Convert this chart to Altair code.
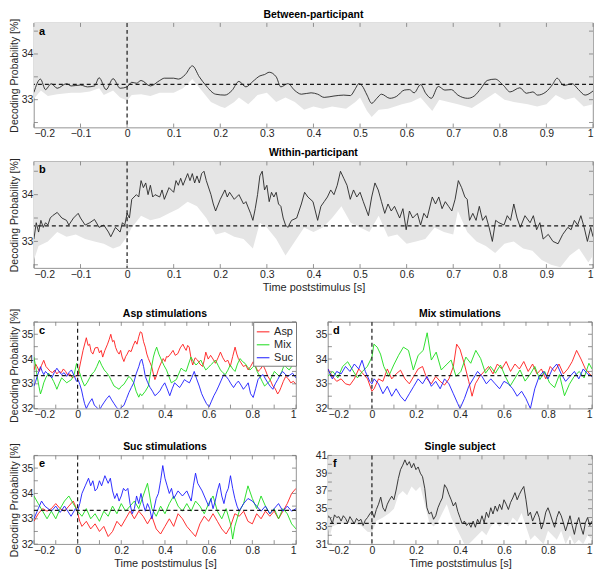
import altair as alt
import pandas as pd

FONT = "Liberation Sans"
CHANCE = 100.0 / 3.0
GRAY = "#e5e5e5"
BOX = "#7a7a7a"

# ---------------- panel a: between-participant (t [s], %) ----------------
a_line = [(-0.2,33.16),(-0.186,33.45),(-0.175,33.22),(-0.163,33.35),(-0.15,33.25),(-0.13,33.35),
          (-0.12,33.3),(-0.1,33.32),(-0.085,33.28),(-0.07,33.3),(-0.06,33.48),(-0.045,33.22),
          (-0.03,33.46),(-0.015,33.25),(0.0,33.28),(0.01,33.38),(0.02,33.36),(0.03,33.42),
          (0.05,33.3),(0.07,33.42),(0.08,33.47),(0.1,33.47),(0.11,33.45),(0.125,33.55),
          (0.14,33.74),(0.155,33.5),(0.17,33.3),(0.19,33.12),(0.21,33.1),(0.225,33.2),
          (0.24,33.4),(0.255,33.28),(0.27,33.4),(0.285,33.52),(0.295,33.55),(0.305,33.6),
          (0.32,33.5),(0.33,33.28),(0.345,33.35),(0.36,33.2),(0.374,33.12),(0.395,33.15),
          (0.409,33.12),(0.423,33.05),(0.444,33.08),(0.465,33.1),(0.479,33.09),(0.49,33.24),
          (0.497,33.35),(0.504,33.31),(0.515,33.1),(0.525,32.92),(0.536,33.03),(0.546,33.12),
          (0.564,33.03),(0.578,33.07),(0.595,33.21),(0.606,33.22),(0.616,33.15),(0.63,33.33),
          (0.641,33.14),(0.653,33.03),(0.668,33.29),(0.682,33.21),(0.696,33.22),(0.71,33.1),
          (0.731,33.03),(0.745,33.08),(0.759,33.24),(0.773,33.42),(0.79,33.45),(0.808,33.31),
          (0.822,33.17),(0.843,33.26),(0.857,33.14),(0.871,33.17),(0.881,33.1),(0.899,33.17),
          (0.913,33.33),(0.923,33.47),(0.937,33.31),(0.955,33.35),(0.969,33.22),(0.983,33.1),
          (1.0,33.19)]
a_band = [(-0.2,33.02),(-0.185,33.2),(-0.17,33.08),(-0.15,33.12),(-0.12,33.15),(-0.1,33.15),
          (-0.08,33.18),(-0.06,33.25),(-0.05,33.1),(-0.03,33.2),(-0.015,33.05),(0.0,32.98),
          (0.01,33.1),(0.03,33.12),(0.05,33.08),(0.07,33.15),(0.1,33.15),(0.12,33.25),
          (0.14,33.45),(0.16,33.2),(0.18,32.95),(0.2,32.85),(0.21,32.82),(0.23,32.95),
          (0.24,33.05),(0.26,32.9),(0.28,33.1),(0.3,33.15),(0.32,32.95),(0.34,33.05),
          (0.36,32.95),(0.38,32.78),(0.4,32.85),(0.42,32.8),(0.44,32.85),(0.47,32.8),
          (0.49,32.95),(0.5,33.05),(0.515,32.75),(0.525,32.62),(0.54,32.78),(0.56,32.8),
          (0.59,32.9),(0.61,32.95),(0.63,33.05),(0.655,32.75),(0.67,33.0),(0.69,32.95),
          (0.71,32.9),(0.74,32.82),(0.76,32.95),(0.79,33.15),(0.81,33.0),(0.83,32.95),
          (0.86,32.9),(0.88,32.85),(0.9,32.9),(0.92,33.1),(0.94,33.0),(0.96,33.05),
          (0.98,32.85),(1.0,32.9)]

# ---------------- panel b: within-participant ----------------
b_line = [(-0.2,33.05),(-0.195,33.4),(-0.19,33.2),(-0.185,33.45),(-0.18,33.3),(-0.175,33.4),
          (-0.17,33.35),(-0.165,33.5),(-0.16,33.55),(-0.15,33.62),(-0.14,33.5),(-0.13,33.45),
          (-0.125,33.35),(-0.115,33.5),(-0.105,33.6),(-0.1,33.5),(-0.09,33.35),(-0.08,33.4),
          (-0.07,33.47),(-0.06,33.3),(-0.05,33.35),(-0.04,33.2),(-0.035,33.1),(-0.025,33.3),
          (-0.015,33.2),(-0.01,33.4),(-0.005,33.35),(0.0,33.6),(0.005,33.5),(0.01,33.9),
          (0.02,34.0),(0.025,33.95),(0.03,34.3),(0.035,34.15),(0.04,34.25),(0.045,34.0),
          (0.05,34.2),(0.055,33.95),(0.06,34.0),(0.07,33.95),(0.075,34.1),(0.08,33.9),
          (0.09,34.15),(0.1,34.05),(0.105,34.3),(0.11,34.2),(0.115,34.35),(0.12,34.2),
          (0.13,34.45),(0.135,34.3),(0.14,34.45),(0.145,34.25),(0.15,34.4),(0.155,34.25),
          (0.16,34.45),(0.165,34.5),(0.17,34.3),(0.18,34.0),(0.185,33.8),(0.19,33.65),
          (0.2,33.9),(0.21,34.1),(0.215,33.95),(0.22,34.05),(0.23,33.9),(0.24,34.0),
          (0.25,33.8),(0.255,33.85),(0.265,33.6),(0.27,33.45),(0.275,33.7),(0.28,34.0),
          (0.285,34.4),(0.29,34.5),(0.295,34.1),(0.3,34.2),(0.305,33.85),(0.31,34.05),
          (0.315,33.95),(0.32,34.05),(0.325,33.8),(0.33,33.75),(0.335,33.5),(0.34,33.35),
          (0.345,33.3),(0.353,33.45),(0.364,33.5),(0.374,33.8),(0.381,34.05),(0.388,33.95),
          (0.399,33.85),(0.409,33.45),(0.416,33.75),(0.423,33.85),(0.43,33.95),(0.437,34.1),
          (0.444,34.0),(0.451,34.2),(0.458,34.5),(0.465,34.35),(0.472,34.2),(0.479,33.9),
          (0.486,34.1),(0.493,33.95),(0.5,34.05),(0.507,33.85),(0.518,33.55),(0.525,33.95),
          (0.532,34.25),(0.539,34.1),(0.546,33.85),(0.553,33.6),(0.56,33.8),(0.567,33.65),
          (0.574,33.75),(0.585,33.5),(0.592,33.7),(0.599,33.25),(0.606,33.65),(0.613,33.5),
          (0.623,33.6),(0.63,33.35),(0.637,33.6),(0.644,33.5),(0.655,33.95),(0.662,33.8),
          (0.669,33.95),(0.676,33.7),(0.683,33.85),(0.69,33.75),(0.697,33.65),(0.704,33.9),
          (0.711,34.3),(0.718,34.15),(0.725,33.95),(0.73,33.9),(0.735,33.45),(0.742,33.6),
          (0.749,33.45),(0.756,33.75),(0.763,33.45),(0.77,33.55),(0.777,33.3),(0.784,33.0),
          (0.791,33.45),(0.798,33.4),(0.809,33.35),(0.816,33.55),(0.823,33.45),(0.83,33.8),
          (0.837,33.5),(0.844,33.3),(0.854,33.55),(0.865,33.4),(0.872,33.55),(0.879,33.25),
          (0.886,33.4),(0.893,33.05),(0.904,33.15),(0.914,33.0),(0.925,32.95),(0.935,33.15),
          (0.946,33.3),(0.953,33.25),(0.96,33.45),(0.967,33.35),(0.974,33.55),(0.981,33.3),
          (0.988,33.0),(0.995,33.3),(1.0,33.1)]
b_band = [(-0.2,32.6),(-0.19,32.9),(-0.17,33.0),(-0.15,33.2),(-0.13,33.1),(-0.11,33.15),
          (-0.09,33.05),(-0.07,33.0),(-0.05,32.95),(-0.03,32.85),(-0.015,32.9),(0.0,33.1),
          (0.01,33.3),(0.03,33.55),(0.05,33.45),(0.07,33.5),(0.09,33.6),(0.11,33.7),
          (0.13,33.85),(0.15,33.75),(0.17,33.5),(0.19,33.15),(0.21,33.2),(0.23,33.1),
          (0.25,33.05),(0.27,32.85),(0.285,33.4),(0.3,33.3),(0.32,33.05),(0.34,32.7),
          (0.36,33.0),(0.38,33.3),(0.4,33.2),(0.42,33.3),(0.44,33.5),(0.46,33.75),
          (0.48,33.4),(0.5,33.3),(0.52,33.2),(0.54,33.55),(0.56,33.1),(0.58,33.15),
          (0.6,32.95),(0.62,33.0),(0.64,33.05),(0.66,33.3),(0.68,33.2),(0.7,33.15),
          (0.71,33.65),(0.73,33.2),(0.75,33.0),(0.77,32.9),(0.79,32.75),(0.81,32.95),
          (0.83,33.0),(0.85,32.85),(0.87,32.8),(0.89,32.6),(0.91,32.5),(0.93,32.45),
          (0.95,32.7),(0.97,32.85),(0.99,32.55),(1.0,32.7)]

# ---------------- panel c: Asp stimulations ----------------
c_asp = [(-0.2,33.55),(-0.192,33.8),(-0.185,33.69),(-0.175,33.5),(-0.165,33.75),(-0.155,33.95),
         (-0.145,33.7),(-0.135,33.6),(-0.125,33.5),(-0.115,33.45),(-0.105,33.55),(-0.095,33.4),
         (-0.085,33.5),(-0.075,33.45),(-0.065,33.6),(-0.055,33.5),(-0.045,33.35),(-0.035,33.4),
         (-0.025,33.25),(-0.013,33.3),(0.002,33.35),(0.012,33.8),(0.025,34.35),(0.04,34.86),
         (0.048,34.55),(0.055,34.6),(0.062,34.3),(0.07,34.2),(0.08,34.45),(0.092,34.47),
         (0.1,34.25),(0.108,34.35),(0.115,34.08),(0.125,34.35),(0.137,34.6),(0.145,34.8),
         (0.152,35.0),(0.16,34.7),(0.167,34.75),(0.174,34.47),(0.182,34.3),(0.19,34.2),
         (0.197,34.35),(0.204,34.08),(0.212,33.9),(0.22,34.1),(0.227,34.2),(0.235,34.35),
         (0.245,34.3),(0.255,34.55),(0.264,34.73),(0.272,34.6),(0.28,34.9),(0.287,35.1),
         (0.294,35.06),(0.302,34.7),(0.31,34.48),(0.317,34.2),(0.324,34.02),(0.332,33.85),
         (0.339,33.7),(0.347,33.4),(0.354,33.17),(0.362,33.35),(0.369,33.56),(0.38,33.8),
         (0.392,34.02),(0.4,33.9),(0.407,34.1),(0.414,34.08),(0.425,34.2),(0.437,34.35),
         (0.447,34.15),(0.459,34.22),(0.47,34.45),(0.482,34.6),(0.49,34.45),(0.497,34.35),
         (0.504,34.55),(0.511,34.48),(0.52,34.0),(0.527,33.76),(0.538,34.05),(0.549,33.96),
         (0.56,33.8),(0.572,33.7),(0.58,33.95),(0.587,34.28),(0.598,34.0),(0.609,34.15),
         (0.62,34.0),(0.631,33.83),(0.643,34.05),(0.654,34.28),(0.665,34.05),(0.676,33.89),
         (0.688,33.95),(0.699,33.7),(0.71,34.1),(0.721,34.48),(0.729,34.2),(0.736,34.02),
         (0.748,33.85),(0.759,33.7),(0.77,33.75),(0.781,33.56),(0.792,33.7),(0.804,33.89),
         (0.815,33.7),(0.826,33.5),(0.838,33.6),(0.849,33.76),(0.86,33.55),(0.871,33.3),
         (0.882,33.15),(0.894,32.91),(0.905,32.8),(0.916,32.59),(0.924,32.7),(0.931,32.85),
         (0.942,33.1),(0.953,33.3),(0.965,33.2),(0.976,33.04),(0.988,33.1),(1.0,32.98)]
c_mix = [(-0.2,34.08),(-0.192,33.7),(-0.185,33.3),(-0.177,32.9),(-0.17,32.59),(-0.162,32.8),
         (-0.155,33.04),(-0.145,33.25),(-0.133,33.43),(-0.122,33.3),(-0.11,33.1),(-0.1,32.9),
         (-0.095,32.78),(-0.085,33.0),(-0.073,33.24),(-0.062,33.15),(-0.05,33.04),(-0.04,33.1),
         (-0.028,33.17),(-0.015,33.4),(-0.005,33.82),(0.003,33.6),(0.01,33.43),(0.02,33.15),
         (0.032,32.91),(0.044,33.05),(0.055,33.24),(0.066,33.4),(0.077,33.5),(0.088,33.7),
         (0.1,33.95),(0.11,33.75),(0.122,33.56),(0.133,33.45),(0.145,33.3),(0.156,33.1),
         (0.167,32.91),(0.178,32.85),(0.19,32.78),(0.2,32.9),(0.212,32.98),(0.224,33.15),
         (0.235,33.3),(0.246,33.2),(0.257,33.04),(0.268,32.7),(0.28,32.46),(0.287,32.6),
         (0.294,32.52),(0.31,32.7),(0.324,32.91),(0.335,33.5),(0.347,34.08),(0.354,34.3),
         (0.362,34.48),(0.372,34.2),(0.384,33.96),(0.395,33.75),(0.407,33.56),(0.418,33.3),
         (0.429,33.04),(0.44,33.1),(0.452,33.17),(0.463,33.4),(0.474,33.63),(0.485,33.55),
         (0.497,33.5),(0.508,33.8),(0.519,34.08),(0.53,33.9),(0.542,33.76),(0.553,33.85),
         (0.564,33.96),(0.575,33.75),(0.587,33.56),(0.598,33.65),(0.609,33.76),(0.62,33.85),
         (0.631,33.96),(0.643,33.75),(0.654,33.56),(0.665,33.45),(0.676,33.37),(0.688,33.55),
         (0.699,33.76),(0.71,33.6),(0.721,33.5),(0.732,33.8),(0.744,34.02),(0.755,33.9),
         (0.766,33.83),(0.777,33.7),(0.789,33.56),(0.8,33.65),(0.811,33.76),(0.822,33.5),
         (0.834,33.3),(0.845,33.1),(0.856,32.91),(0.867,33.0),(0.879,33.11),(0.89,33.3),
         (0.901,33.5),(0.912,33.4),(0.924,33.3),(0.935,33.5),(0.946,33.76),(0.957,33.65),
         (0.969,33.56),(0.98,33.7),(0.991,33.83),(1.0,33.7)]
c_suc = [(-0.2,32.91),(-0.192,33.1),(-0.185,33.3),(-0.177,33.5),(-0.17,33.69),(-0.162,33.5),
         (-0.155,33.37),(-0.147,33.5),(-0.14,33.43),(-0.13,33.35),(-0.118,33.24),(-0.107,33.45),
         (-0.095,33.63),(-0.085,33.5),(-0.073,33.37),(-0.062,33.45),(-0.05,33.3),(-0.04,33.45),
         (-0.028,33.56),(-0.017,33.35),(-0.005,33.1),(0.003,33.15),(0.01,32.98),(0.018,32.75),
         (0.025,32.46),(0.032,32.2),(0.04,32.0),(0.048,32.15),(0.055,32.26),(0.066,32.4),
         (0.077,32.13),(0.088,32.05),(0.1,31.93),(0.11,32.1),(0.122,32.26),(0.133,32.4),
         (0.145,32.52),(0.156,32.35),(0.167,32.2),(0.178,32.05),(0.19,31.95),(0.2,32.05),
         (0.212,32.13),(0.224,32.4),(0.235,32.65),(0.246,32.85),(0.257,33.04),(0.268,33.4),
         (0.28,33.69),(0.287,33.9),(0.294,34.0),(0.302,33.7),(0.31,33.3),(0.321,33.05),
         (0.332,32.85),(0.343,32.7),(0.354,32.52),(0.365,32.6),(0.377,32.72),(0.388,32.9),
         (0.399,33.04),(0.41,32.8),(0.422,32.52),(0.433,32.8),(0.444,33.04),(0.455,32.95),
         (0.467,32.85),(0.478,33.0),(0.489,33.17),(0.5,33.1),(0.512,33.04),(0.523,33.25),
         (0.534,33.5),(0.545,33.2),(0.557,32.91),(0.568,32.6),(0.579,32.39),(0.59,32.2),
         (0.602,32.07),(0.613,32.3),(0.624,32.52),(0.635,32.7),(0.646,32.91),(0.658,33.15),
         (0.669,33.37),(0.68,33.3),(0.691,33.17),(0.702,33.0),(0.714,32.85),(0.725,33.0),
         (0.736,33.11),(0.748,32.95),(0.759,32.78),(0.77,32.9),(0.781,33.04),(0.792,32.6),
         (0.804,32.45),(0.815,32.8),(0.826,33.17),(0.838,33.3),(0.849,33.37),(0.86,33.2),
         (0.871,33.04),(0.882,32.9),(0.894,32.78),(0.905,33.0),(0.916,33.17),(0.927,33.35),
         (0.938,33.5),(0.95,33.4),(0.961,33.3),(0.972,33.35),(0.984,33.43),(1.0,33.24)]

# ---------------- panel d: Mix stimulations ----------------
d_asp = [(-0.2,33.6),(-0.18,33.3),(-0.16,33.1),(-0.14,33.2),(-0.12,33.0),(-0.1,32.95),
         (-0.08,33.2),(-0.06,33.6),(-0.04,33.4),(-0.02,33.2),(0.0,32.7),(0.01,32.8),
         (0.03,33.2),(0.05,33.1),(0.07,33.6),(0.09,33.2),(0.11,33.4),(0.13,33.55),
         (0.15,33.2),(0.17,33.0),(0.19,33.3),(0.21,33.6),(0.23,33.7),(0.25,33.2),
         (0.27,33.0),(0.29,33.3),(0.31,33.1),(0.33,32.95),(0.35,33.2),(0.37,33.7),
         (0.385,34.6),(0.4,34.4),(0.42,33.8),(0.44,33.1),(0.455,32.5),(0.47,33.0),
         (0.49,33.3),(0.51,33.5),(0.53,33.7),(0.55,33.4),(0.57,33.8),(0.59,33.6),
         (0.61,33.9),(0.63,33.5),(0.65,33.8),(0.67,33.6),(0.69,33.9),(0.71,33.5),
         (0.73,33.8),(0.75,33.4),(0.77,33.6),(0.79,33.2),(0.81,33.7),(0.83,33.5),
         (0.85,33.8),(0.87,33.4),(0.89,33.6),(0.91,33.9),(0.93,34.35),(0.95,34.0),
         (0.97,33.6),(0.99,33.4),(1.0,33.3)]
d_mix = [(-0.2,33.3),(-0.178,33.5),(-0.155,33.24),(-0.133,33.7),(-0.11,33.89),(-0.088,33.56),
         (-0.066,33.24),(-0.043,33.5),(-0.021,33.7),(0.0,34.08),(0.009,34.6),(0.024,34.48),
         (0.039,34.2),(0.054,33.7),(0.076,33.3),(0.099,33.76),(0.121,34.15),(0.143,34.48),
         (0.166,34.35),(0.188,33.56),(0.21,34.15),(0.233,34.35),(0.251,35.06),(0.27,33.96),
         (0.292,34.28),(0.315,33.56),(0.337,33.76),(0.36,33.96),(0.382,33.3),(0.404,33.5),
         (0.427,34.08),(0.449,33.83),(0.472,34.35),(0.494,34.02),(0.516,33.43),(0.539,33.7),
         (0.561,33.43),(0.584,33.76),(0.606,33.3),(0.628,32.91),(0.651,33.24),(0.673,33.56),
         (0.696,33.11),(0.718,33.37),(0.74,33.7),(0.763,33.17),(0.785,33.5),(0.807,33.04),
         (0.83,32.85),(0.852,33.37),(0.875,32.52),(0.897,32.98),(0.919,33.3),(0.942,33.5),
         (0.964,33.24),(0.986,33.83),(1.0,33.6)]
d_suc = [(-0.2,33.6),(-0.18,33.2),(-0.16,33.5),(-0.14,33.4),(-0.12,33.7),(-0.1,33.5),
         (-0.08,33.8),(-0.06,33.6),(-0.045,33.95),(-0.03,33.5),(-0.01,33.1),(0.0,33.0),
         (0.01,33.2),(0.03,33.0),(0.05,32.6),(0.07,32.9),(0.09,32.5),(0.11,32.8),
         (0.13,32.5),(0.15,32.3),(0.17,32.6),(0.19,32.9),(0.21,33.2),(0.23,33.0),
         (0.25,33.3),(0.27,32.9),(0.29,33.1),(0.31,32.8),(0.33,33.2),(0.35,33.0),
         (0.37,32.6),(0.39,32.2),(0.4,32.0),(0.42,32.4),(0.44,32.9),(0.46,33.2),
         (0.48,33.5),(0.5,33.3),(0.52,33.0),(0.54,33.2),(0.56,33.0),(0.58,32.8),
         (0.6,33.1),(0.62,33.0),(0.64,32.8),(0.66,32.5),(0.68,32.7),(0.7,32.4),
         (0.72,32.0),(0.74,32.8),(0.76,33.3),(0.78,33.5),(0.8,33.2),(0.82,33.6),
         (0.84,33.8),(0.86,33.4),(0.88,33.1),(0.9,33.3),(0.92,33.5),(0.94,33.2),
         (0.96,33.6),(0.98,33.4),(1.0,33.3)]

# ---------------- panel e: Suc stimulations ----------------
e_asp = [(-0.2,32.9),(-0.18,33.2),(-0.16,33.4),(-0.14,33.3),(-0.12,33.4),(-0.1,33.6),
         (-0.08,33.4),(-0.06,33.3),(-0.04,33.5),(-0.02,33.7),(-0.005,33.4),(0.01,32.9),
         (0.02,32.7),(0.04,32.9),(0.06,32.6),(0.08,32.8),(0.1,32.5),(0.12,32.7),
         (0.14,32.3),(0.16,32.5),(0.18,32.9),(0.2,32.7),(0.22,33.0),(0.24,33.3),
         (0.26,33.0),(0.28,33.3),(0.3,33.1),(0.32,32.8),(0.34,33.1),(0.36,32.6),
         (0.38,32.4),(0.4,32.7),(0.42,33.0),(0.44,32.7),(0.46,33.2),(0.48,33.0),
         (0.5,32.7),(0.52,32.5),(0.54,32.3),(0.56,32.8),(0.58,33.1),(0.6,32.9),
         (0.62,33.2),(0.64,32.9),(0.66,32.6),(0.68,32.4),(0.7,32.7),(0.72,33.2),
         (0.74,33.1),(0.76,33.3),(0.78,32.9),(0.8,32.8),(0.82,33.2),(0.84,33.0),
         (0.86,33.3),(0.88,33.1),(0.9,33.3),(0.92,33.0),(0.94,33.3),(0.96,33.6),
         (0.98,34.0),(1.0,34.2)]
e_mix = [(-0.2,33.9),(-0.18,33.6),(-0.16,33.3),(-0.14,33.0),(-0.12,33.3),(-0.1,33.0),
         (-0.08,33.4),(-0.06,33.7),(-0.04,33.9),(-0.02,33.6),(0.0,33.3),(0.02,33.1),
         (0.04,33.4),(0.06,33.0),(0.08,33.2),(0.1,32.9),(0.12,33.3),(0.14,33.1),
         (0.16,33.5),(0.18,33.2),(0.2,33.6),(0.22,33.3),(0.24,33.5),(0.26,33.7),
         (0.28,33.4),(0.3,33.9),(0.32,34.4),(0.33,33.9),(0.34,33.4),(0.36,33.1),
         (0.38,33.5),(0.4,33.2),(0.42,33.6),(0.44,33.9),(0.46,33.5),(0.48,33.3),
         (0.5,33.6),(0.52,33.3),(0.54,33.7),(0.56,33.5),(0.58,33.2),(0.6,33.6),
         (0.62,33.9),(0.64,33.3),(0.66,33.0),(0.68,33.4),(0.7,32.8),(0.71,32.2),
         (0.72,32.7),(0.74,33.3),(0.76,33.6),(0.78,34.3),(0.8,33.8),(0.82,33.4),
         (0.84,33.9),(0.86,33.5),(0.88,33.2),(0.9,33.4),(0.92,33.0),(0.94,33.4),
         (0.96,33.2),(0.98,32.8),(1.0,32.6)]
e_suc = [(-0.2,33.0),(-0.18,33.4),(-0.165,33.7),(-0.15,33.5),(-0.12,33.3),(-0.1,33.5),
         (-0.08,33.25),(-0.06,33.5),(-0.03,33.1),(-0.01,33.4),(0.0,33.3),(0.01,33.6),
         (0.02,34.0),(0.035,34.3),(0.05,34.6),(0.06,34.3),(0.07,34.5),(0.08,34.1),
         (0.09,34.2),(0.1,34.5),(0.11,34.3),(0.125,34.7),(0.14,34.4),(0.15,34.6),
         (0.16,34.1),(0.17,33.8),(0.18,34.0),(0.19,33.7),(0.2,33.9),(0.21,34.2),
         (0.22,34.1),(0.23,34.2),(0.24,33.6),(0.25,33.2),(0.26,33.4),(0.27,33.9),
         (0.28,33.6),(0.29,34.0),(0.3,33.6),(0.31,33.3),(0.32,33.6),(0.33,33.4),
         (0.34,33.0),(0.35,33.4),(0.36,33.8),(0.37,34.0),(0.38,34.5),(0.39,35.1),
         (0.4,34.6),(0.41,34.3),(0.42,34.0),(0.43,34.2),(0.44,33.8),(0.46,34.1),
         (0.48,33.9),(0.5,34.1),(0.52,33.7),(0.53,34.3),(0.54,34.8),(0.55,34.4),
         (0.57,34.1),(0.58,33.9),(0.6,33.5),(0.61,33.8),(0.62,33.4),(0.63,33.7),
         (0.64,34.1),(0.65,34.4),(0.66,33.9),(0.67,33.6),(0.68,34.0),(0.69,34.2),
         (0.7,34.7),(0.71,34.2),(0.72,33.8),(0.73,33.5),(0.74,33.3),(0.76,33.6),
         (0.78,33.8),(0.8,33.7),(0.82,33.5),(0.84,33.3),(0.86,33.5),(0.88,33.2),
         (0.9,33.4),(0.92,33.6),(0.94,33.3),(0.96,33.5),(0.98,33.3),(1.0,33.4)]

# ---------------- panel f: single subject ----------------
f_line = [(-0.2,34.2),(-0.19,34.0),(-0.18,33.3),(-0.17,34.3),(-0.16,34.0),(-0.15,34.1),
          (-0.14,33.6),(-0.13,34.2),(-0.12,33.9),(-0.11,33.4),(-0.1,34.1),(-0.09,33.7),
          (-0.08,33.3),(-0.07,33.9),(-0.06,33.6),(-0.05,33.8),(-0.04,33.1),(-0.03,33.7),
          (-0.02,34.0),(-0.01,34.4),(0.0,34.7),(0.01,34.0),(0.02,34.9),(0.03,35.5),
          (0.04,36.3),(0.05,35.1),(0.06,34.7),(0.07,35.5),(0.08,36.0),(0.09,36.4),
          (0.1,36.0),(0.11,37.1),(0.12,38.4),(0.13,39.4),(0.14,39.9),(0.15,40.5),
          (0.16,39.9),(0.17,40.3),(0.18,39.6),(0.19,40.1),(0.2,39.4),(0.21,39.7),
          (0.22,39.0),(0.23,38.6),(0.24,37.3),(0.25,35.1),(0.26,34.4),(0.27,34.6),
          (0.28,33.8),(0.29,34.2),(0.3,35.1),(0.31,35.7),(0.32,36.2),(0.33,37.7),
          (0.34,37.3),(0.35,36.6),(0.36,36.0),(0.37,35.3),(0.38,35.7),(0.39,34.7),
          (0.4,34.0),(0.41,33.3),(0.42,33.6),(0.43,33.1),(0.44,33.4),(0.45,32.9),
          (0.46,33.6),(0.47,32.9),(0.48,33.8),(0.49,33.3),(0.5,34.2),(0.51,33.4),
          (0.52,34.6),(0.53,34.0),(0.54,35.1),(0.55,34.4),(0.56,35.3),(0.57,34.7),
          (0.58,35.5),(0.59,34.9),(0.6,36.0),(0.61,35.5),(0.62,34.9),(0.63,35.7),
          (0.64,36.2),(0.65,36.8),(0.66,36.0),(0.67,36.6),(0.68,37.1),(0.69,37.5),
          (0.7,36.0),(0.71,34.2),(0.72,34.6),(0.73,33.6),(0.74,34.2),(0.75,34.7),
          (0.76,34.0),(0.77,32.7),(0.78,33.4),(0.79,34.6),(0.8,35.1),(0.81,34.4),
          (0.82,33.6),(0.83,32.9),(0.84,34.0),(0.85,34.7),(0.86,34.2),(0.87,33.4),
          (0.88,32.5),(0.89,33.3),(0.9,34.2),(0.91,33.1),(0.92,32.1),(0.93,33.3),
          (0.94,34.0),(0.95,32.9),(0.96,32.1),(0.97,33.4),(0.98,34.0),(0.99,33.1),
          (1.0,33.6)]
f_band = [(-0.2,32.8),(-0.19,32.0),(-0.18,33.0),(-0.15,33.3),(-0.1,33.4),(-0.05,33.1),
          (-0.02,32.4),(0.0,32.3),(0.02,33.6),(0.05,34.0),(0.08,34.5),(0.1,35.0),
          (0.12,36.5),(0.14,37.0),(0.16,36.5),(0.18,37.5),(0.2,37.0),(0.22,37.5),
          (0.24,35.5),(0.26,33.5),(0.28,33.0),(0.3,33.5),(0.32,34.5),(0.34,35.5),
          (0.36,34.0),(0.38,33.0),(0.4,32.0),(0.42,31.0),(0.44,31.0),(0.46,31.5),
          (0.48,32.0),(0.5,32.5),(0.52,32.0),(0.54,33.0),(0.56,33.5),(0.58,33.0),
          (0.6,33.5),(0.62,33.0),(0.64,34.0),(0.66,33.5),(0.68,34.5),(0.7,33.0),
          (0.72,31.5),(0.74,32.0),(0.76,31.5),(0.78,31.0),(0.8,32.5),(0.82,32.0),
          (0.84,31.5),(0.86,32.5),(0.88,31.0),(0.9,32.0),(0.92,31.0),(0.94,31.5),
          (0.96,31.0),(0.98,32.0),(1.0,31.5)]

SERIES = ["Asp", "Mix", "Suc"]
SERIES_COLORS = ["#ff1a1a", "#1adc1a", "#1a1aff"]

X_LABELS_FINE = [-0.2, -0.1, 0, 0.1, 0.2, 0.3, 0.4, 0.5, 0.6, 0.7, 0.8, 0.9, 1.0]
X_LABELS_COARSE = [-0.2, 0, 0.2, 0.4, 0.6, 0.8, 1.0]
X_TICKS = X_LABELS_FINE


def pairs_df(pairs, col="v"):
    return pd.DataFrame({"t": [p[0] for p in pairs], col: [p[1] for p in pairs]})


def multi_df(series_lists):
    frames = []
    for name, pairs in zip(SERIES, series_lists):
        d = pairs_df(pairs)
        d["s"] = name
        frames.append(d)
    return pd.concat(frames, ignore_index=True)


def panel(letter, title, W, H, ydom, ylabels, yticks, xlabels, line=None, band=None,
          multi=None, ytitle=None, xtitle=None, legend=None, interp="linear"):
    def xenc(field):
        return alt.X(f"{field}:Q", scale=alt.Scale(domain=[-0.2, 1.0], nice=False, zero=False),
                     axis=alt.Axis(values=xlabels, format=".1~f", title=xtitle))

    def yenc(field):
        return alt.Y(f"{field}:Q", scale=alt.Scale(domain=ydom, nice=False, zero=False),
                     axis=alt.Axis(values=ylabels, format="d", title=ytitle, titleFontSize=10.5))

    layers = []
    if band is not None:
        layers.append(alt.Chart(pairs_df(band, "lo")).mark_area(color=GRAY, clip=True).encode(
            x=xenc("t"), y=yenc("lo"), y2=alt.datum(ydom[1])))
    if line is not None:
        layers.append(alt.Chart(pairs_df(line)).mark_line(
            color="#262626", strokeWidth=0.9, clip=True, interpolate=interp).encode(
            x=xenc("t"), y=yenc("v")))
    if multi is not None:
        layers.append(alt.Chart(multi_df(multi)).mark_line(strokeWidth=0.9, clip=True).encode(
            x=xenc("t"), y=yenc("v"),
            color=alt.Color("s:N", scale=alt.Scale(domain=SERIES, range=SERIES_COLORS),
                            legend=legend)))
    dash = dict(color="#1a1a1a", strokeDash=[4, 3], strokeWidth=1.2)
    layers.append(alt.Chart(pd.DataFrame({"v": [CHANCE]})).mark_rule(**dash).encode(y=yenc("v")))
    layers.append(alt.Chart(pd.DataFrame({"v": [0.0]})).mark_rule(**dash).encode(x=xenc("v")))
    # inward tick marks (MATLAB style)
    tk = dict(color=BOX, strokeWidth=0.8)
    xt = pd.DataFrame({"v": X_TICKS})
    yt = pd.DataFrame({"v": yticks})
    layers.append(alt.Chart(xt).mark_rule(**tk).encode(x=xenc("v"), y=alt.value(H), y2=alt.value(H - 4)))
    layers.append(alt.Chart(xt).mark_rule(**tk).encode(x=xenc("v"), y=alt.value(0), y2=alt.value(4)))
    layers.append(alt.Chart(yt).mark_rule(**tk).encode(y=yenc("v"), x=alt.value(0), x2=alt.value(4)))
    layers.append(alt.Chart(yt).mark_rule(**tk).encode(y=yenc("v"), x=alt.value(W), x2=alt.value(W - 4)))
    layers.append(alt.Chart(pd.DataFrame({"txt": [letter]})).mark_text(
        fontWeight="bold", fontSize=11, align="left", baseline="top", color="black", font=FONT).encode(
        text="txt:N", x=alt.value(5), y=alt.value(3)))
    # panel title drawn as text just above the plot area
    layers.append(alt.Chart(pd.DataFrame({"txt": [title]})).mark_text(
        fontWeight="bold", fontSize=10.5, align="center", baseline="bottom", color="black",
        font=FONT).encode(text="txt:N", x=alt.value(W / 2), y=alt.value(-3)))
    return alt.layer(*layers).properties(width=W, height=H)


YT = "Decoding Probability [%]"
XT = "Time poststimulus [s]"
HALF = [32 + 0.5 * i for i in range(8)]

WL, WR = 263, 265
WA = WL + 33 + WR

pa = panel("a", "Between-participant", WA, 105, [32.39, 34.68], [33, 34],
           [32.5, 33, 33.5, 34, 34.5], X_LABELS_FINE, line=a_line, band=a_band,
           ytitle=YT, interp="monotone")
pb = panel("b", "Within-participant", WA, 107, [32.43, 34.71], [33, 34],
           [32.5, 33, 33.5, 34, 34.5], X_LABELS_FINE, line=b_line, band=b_band,
           ytitle=YT, xtitle=XT)

leg = alt.Legend(title=None, orient="top-right", offset=0, fillColor="white", strokeColor=BOX,
                 padding=3, labelFontSize=11, labelFont=FONT, labelColor="#262626",
                 symbolType="stroke", symbolSize=160, symbolStrokeWidth=1, rowPadding=1)

pc = panel("c", "Asp stimulations", WL, 87, [32, 35.5], [32, 33, 34, 35], HALF,
           X_LABELS_COARSE, multi=[c_asp, c_mix, c_suc], ytitle=YT, legend=leg)
pd_ = panel("d", "Mix stimulations", WR, 87, [32, 35.5], [32, 33, 34, 35], HALF,
            X_LABELS_COARSE, multi=[d_asp, d_mix, d_suc], legend=None)
pe = panel("e", "Suc stimulations", WL, 89, [32, 35.5], [32, 33, 34, 35], HALF,
           X_LABELS_COARSE, multi=[e_asp, e_mix, e_suc], ytitle=YT, xtitle=XT, legend=None)
pf = panel("f", "Single subject", WR, 89, [31, 41], [31, 33, 35, 37, 39, 41],
           list(range(31, 42)), X_LABELS_COARSE, line=f_line, band=f_band, xtitle=XT)


def indep(c):
    return c.resolve_scale(color="independent").resolve_legend(color="independent")


row_cd = indep(alt.hconcat(pc, pd_, spacing=17))
row_ef = indep(alt.hconcat(pe, pf, spacing=17))
top = alt.vconcat(pa, pb, spacing=8)
bottom = indep(alt.vconcat(row_cd, row_ef, spacing=18))

chart = indep(alt.vconcat(top, bottom, spacing=14)).properties(padding=0).configure(
    font=FONT).configure_view(stroke=BOX, strokeWidth=0.8).configure_axis(
    labelFont=FONT, labelFontSize=10.5, labelColor="#262626", labelPadding=1,
    titleFont=FONT, titleFontSize=11, titleFontWeight="normal", titleColor="#262626",
    titlePadding=2, ticks=False, tickSize=0, domain=False, grid=False)

chart.save("out.html", embed_options={"renderer": "svg", "actions": False})
